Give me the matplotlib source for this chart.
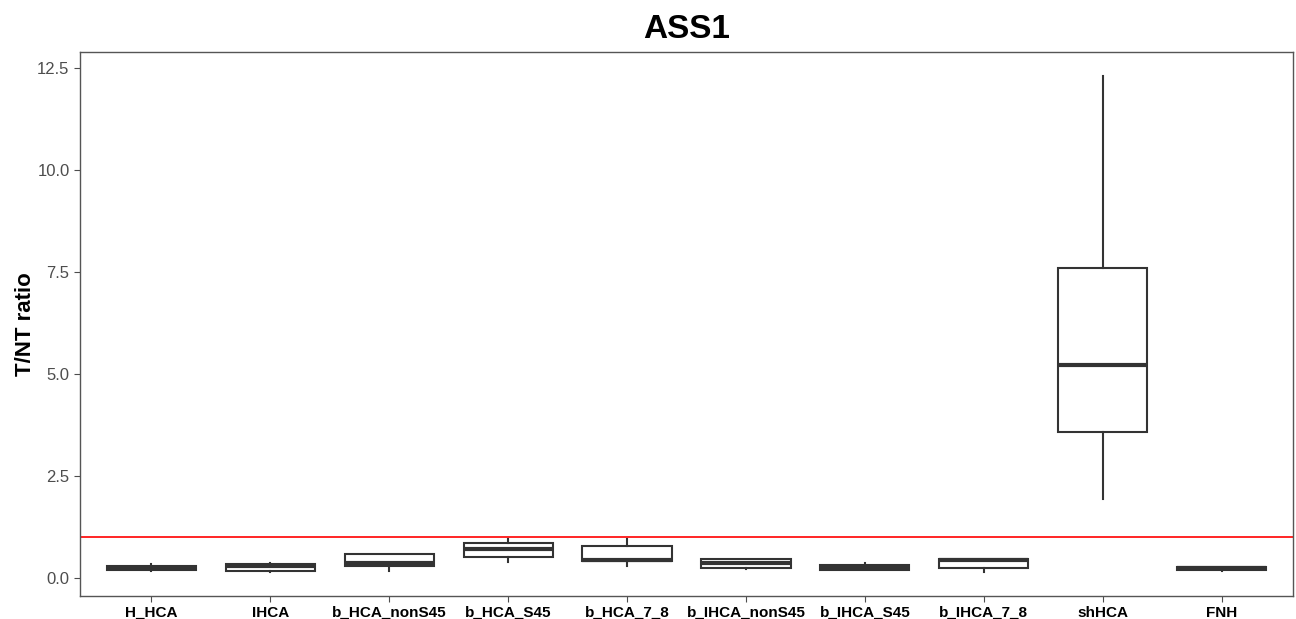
import matplotlib.pyplot as plt

plt.rcParams["font.family"] = ["Liberation Sans", "DejaVu Sans"]

groups = ["H_HCA", "IHCA", "b_HCA_nonS45", "b_HCA_S45", "b_HCA_7_8",
          "b_IHCA_nonS45", "b_IHCA_S45", "b_IHCA_7_8", "shHCA", "FNH"]
whislo = [0.18, 0.16, 0.18, 0.39, 0.31, 0.23, 0.20, 0.16, 1.94, 0.17]
q1 = [0.21, 0.17, 0.30, 0.51, 0.41, 0.26, 0.21, 0.26, 3.58, 0.19]
med = [0.26, 0.31, 0.36, 0.71, 0.44, 0.37, 0.28, 0.44, 5.22, 0.24]
q3 = [0.29, 0.34, 0.59, 0.85, 0.79, 0.48, 0.33, 0.47, 7.60, 0.28]
whishi = [0.34, 0.38, 0.59, 0.95, 0.95, 0.48, 0.38, 0.47, 12.30, 0.28]
threshold = 1.0

stats = []
for i, g in enumerate(groups):
    stats.append({"label": g, "whislo": whislo[i], "q1": q1[i], "med": med[i],
                  "q3": q3[i], "whishi": whishi[i], "fliers": []})

fig = plt.figure(figsize=(12.96, 6.19), dpi=100)
ax = fig.add_axes([0.0617, 0.037, 0.936, 0.879])

ax.bxp(stats, positions=range(1, len(groups) + 1), widths=0.75,
       showcaps=False, patch_artist=True,
       boxprops=dict(facecolor="white", edgecolor="#333333", linewidth=1.5),
       whiskerprops=dict(color="#333333", linewidth=1.5),
       medianprops=dict(color="#333333", linewidth=3))

ax.axhline(threshold, color="red", linewidth=1.2, zorder=0.5)

ax.set_xlim(0.4, 10.6)
ax.set_ylim(-0.44, 12.9)
ax.set_yticks([0, 2.5, 5, 7.5, 10, 12.5])
ax.set_yticklabels(["0.0", "2.5", "5.0", "7.5", "10.0", "12.5"])
ax.set_xticks(range(1, len(groups) + 1))
ax.set_xticklabels(groups, fontweight="bold", fontsize=11, color="black")
ax.tick_params(axis="y", labelsize=12, colors="#4d4d4d", length=4)
ax.tick_params(axis="x", length=4, color="#4d4d4d", pad=3)
for s in ax.spines.values():
    s.set_color("#555555")
    s.set_linewidth(1)

ax.set_ylabel("T/NT ratio", fontsize=16, fontweight="bold", labelpad=1)
ax.set_title("ASS1", fontsize=24, fontweight="bold", pad=10)

fig.savefig("out.png", dpi=100)
